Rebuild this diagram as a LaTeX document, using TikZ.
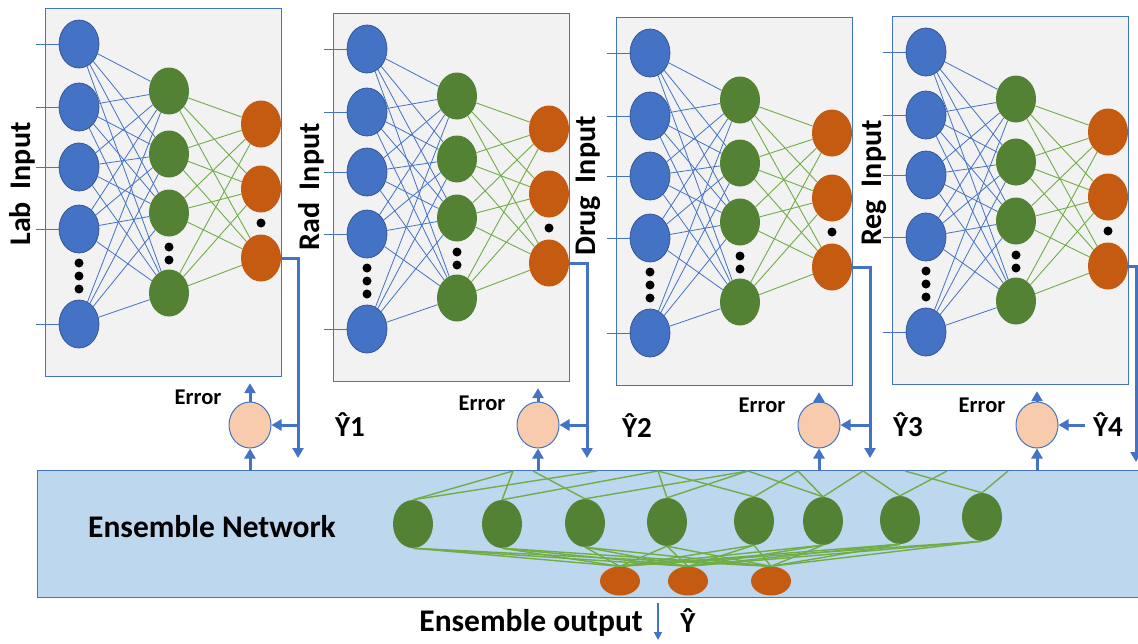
\documentclass[tikz,border=0pt]{standalone}
\usepackage{fontspec}
\setmainfont{Carlito}
\usetikzlibrary{shapes.geometric, arrows.meta, positioning, calc}

\definecolor{nnblue}{HTML}{4472C4}
\definecolor{nnblueline}{HTML}{2F528F}
\definecolor{nngreen}{HTML}{548235}
\definecolor{nnlgreen}{HTML}{70AD47}
\definecolor{nnorange}{HTML}{C55A11}
\definecolor{nnpeach}{HTML}{F8CBAD}
\definecolor{panelgray}{HTML}{F2F2F2}
\definecolor{enslight}{HTML}{BDD7EE}

\tikzset{
  neuron/.style={ellipse, minimum width=40pt, minimum height=48pt, inner sep=0pt},
  inneuron/.style={neuron, fill=nnblue, draw=nnblueline, line width=0.7pt},
  hidneuron/.style={neuron, fill=nngreen, minimum height=47pt},
  outneuron/.style={neuron, fill=nnorange, minimum height=47pt},
  ensout/.style={neuron, fill=nnorange, minimum height=29pt},
  errnode/.style={ellipse, minimum width=42pt, minimum height=46pt, inner sep=0pt,
    fill=nnpeach, draw=nnblue, line width=1pt},
  panel/.style={draw=nnblue, fill=panelgray, line width=1.2pt, inner sep=0pt,
    minimum width=236pt, minimum height=368pt},
  ensbox/.style={draw=nnblue, fill=enslight, line width=1.4pt, inner sep=0pt,
    minimum width=1130pt, minimum height=127pt},
  wire/.style={nnblue, line width=0.8pt},
  gwire/.style={nnlgreen, line width=0.9pt},
  ewire/.style={nnlgreen, line width=1.4pt},
  flow/.style={nnblue, line width=3pt, -{Triangle[length=10pt, width=11pt]}},
  outflow/.style={nnblue, line width=1.8pt, -{Triangle[length=8pt, width=8pt]}},
  sidelbl/.style={font=\bfseries\fontsize{30}{32}\selectfont, inner sep=0pt},
  errlbl/.style={font=\bfseries\fontsize{22.5}{24}\selectfont, inner sep=0pt},
  yhat/.style={font=\bfseries\fontsize{29}{30}\selectfont, inner sep=0pt},
  enslbl/.style={font=\bfseries\fontsize{31.5}{34}\selectfont, inner sep=0pt}
}

\begin{document}
\begin{tikzpicture}[x=1pt, y=-1pt]
\useasboundingbox (0,0) rectangle (1138,643);

% ensemble network box
\node[ensbox, anchor=north west] (ens) at (37,470) {};
\node[enslbl] (enstitle) at (212,527) {Ensemble Network};

% the four input networks
\foreach \p/\px/\py/\name/\lx/\ly in {1/45/8/Lab/22/184, 2/333/13/Rad/311/187,
    3/616/17/Drug/588/186, 4/892/16/Reg/874/183}{
  \node[panel, anchor=north west] (box\p) at (\px,\py) {};
  \node[sidelbl, rotate=90] (lbl\p) at (\lx,\ly) {\name\hspace{6pt} Input};
  \foreach \i/\dy in {1/36,2/99,3/159,4/221,5/316}{
    \node[inneuron] (p\p-i\i) at (\px+34,\py+\dy) {};
    \draw[wire] (p\p-i\i.west) -- ++(-23,0);
  }
  \foreach \h/\dy in {1/83,2/146,3/205,4/285}
    \node[hidneuron] (p\p-h\h) at (\px+124,\py+\dy) {};
  \foreach \o/\dy in {1/116,2/181,3/250}
    \node[outneuron] (p\p-o\o) at (\px+216,\py+\dy) {};
  \foreach \i in {1,...,5}
    \foreach \h in {1,...,4}
      \draw[wire] (p\p-i\i) -- (p\p-h\h);
  \foreach \h in {1,...,4}
    \foreach \o in {1,2,3}
      \draw[gwire] (p\p-h\h) -- (p\p-o\o);
  % dots
  \foreach \dy in {255,268,281}
    \fill (\px+34,\py+\dy) circle (4.5pt);
  \foreach \dy in {239,252}
    \fill (\px+124,\py+\dy) circle (4.5pt);
  \fill (\px+216,\py+215) circle (4.5pt);
}

% error units
\node[errnode] (err1) at (250,425) {};
\node[errnode] (err2) at (538,425) {};
\node[errnode] (err3) at (819,425) {};
\node[errnode] (err4) at (1037,425) {};
\node[errlbl] (errtxt1) at (198,397) {Error};
\node[errlbl] (errtxt2) at (482,403) {Error};
\node[errlbl] (errtxt3) at (762,405) {Error};
\node[errlbl] (errtxt4) at (982,405) {Error};
\node[yhat] (yhat1) at (350,425) {Ŷ1};
\node[yhat] (yhat2) at (637,426) {Ŷ2};
\node[yhat] (yhat3) at (908,425) {Ŷ3};
\node[yhat] (yhat4) at (1108,425) {Ŷ4};

\coordinate (drop1) at (298,458);
\coordinate (drop2) at (587,458);
\coordinate (drop3) at (870,458);
\coordinate (drop4) at (1136,462);

\foreach \k in {1,...,4}{
  \draw[flow, shorten >=6pt] (err\k.north) -- (err\k.north |- box\k.south);
  \draw[flow] (err\k.south |- ens.north) -- (err\k.south);
  \draw[flow] (p\k-o3.east) -| (drop\k);
}
\foreach \k in {1,2,3}
  \draw[flow] (drop\k |- err\k) -- (err\k.east);
\draw[flow, shorten <=8pt] (yhat4.west) -- (err4.east);

% ensemble layer
\foreach \g/\x/\y in {1/413/524, 2/502/524, 3/585/523, 4/667/522,
    5/754/521, 6/823/521, 7/900/520, 8/982/517}
  \node[hidneuron, minimum height=48pt] (eg\g) at (\x,\y) {};
\node[ensout] (eo1) at (620,581) {};
\node[ensout] (eo2) at (688,581) {};
\node[ensout] (eo3) at (771,581) {};

\foreach \t/\x in {1/513, 2/533, 3/597, 4/658, 5/748, 6/798, 7/863, 8/905, 9/947, 10/1008}
  \coordinate (top\t) at (\x,471);
\foreach \g/\t in {1/1, 1/3, 2/1, 2/4, 3/2, 3/5, 4/4, 4/5, 5/4, 5/6,
    6/5, 6/6, 6/7, 7/7, 7/9, 8/8, 8/10}
  \draw[ewire] (eg\g.north) -- (top\t);
\foreach \g in {1,...,8}
  \foreach \o in {1,2,3}
    \draw[ewire] (eg\g.south) -- (eo\o.north);

% ensemble output
\coordinate (ensend) at (658,640);
\draw[outflow] ([yshift=-5pt]ens.south -| ensend) -- (ensend);
\node[enslbl, anchor=east] (outtxt) at (643,623) {Ensemble output};
\node[yhat] (yhatall) at (688,621) {Ŷ};
\end{tikzpicture}
\end{document}
